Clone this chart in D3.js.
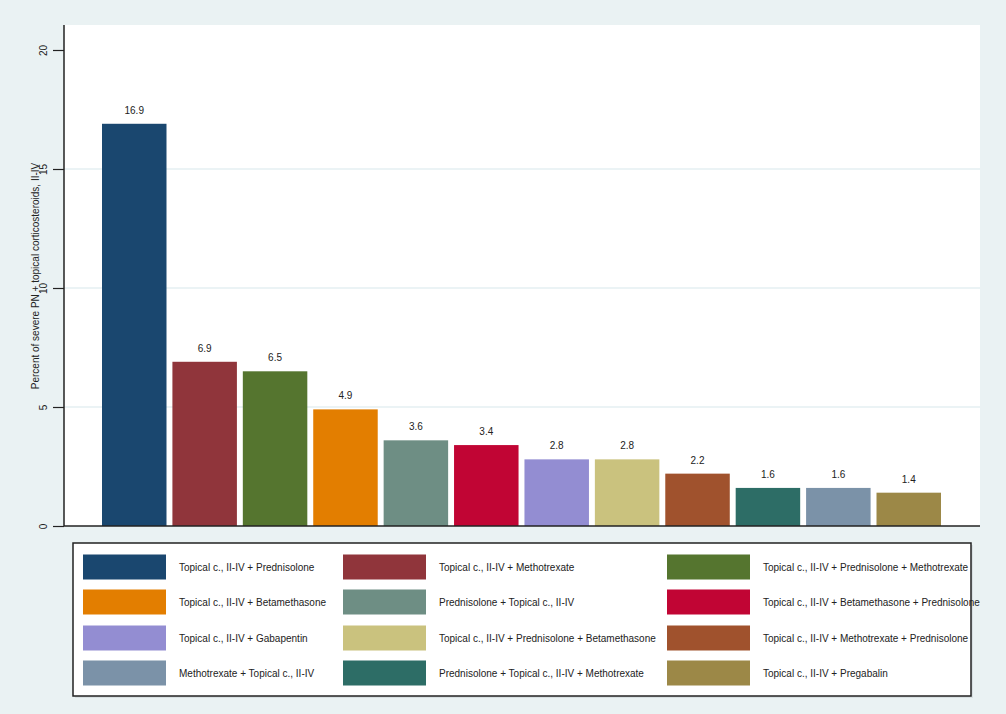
<!DOCTYPE html>
<html>
<head>
<meta charset="utf-8">
<script src="https://cdn.jsdelivr.net/npm/d3@7"></script>
<style>
  body { margin: 0; background: #eaf2f3; }
  text { font-family: "Liberation Sans", Arial, sans-serif; fill: #222; }
</style>
</head>
<body>
<div class="chart"></div>
<script>
// legend order (Stata series order)
const combos = [
  "Topical c., II-IV + Prednisolone",
  "Topical c., II-IV + Methotrexate",
  "Topical c., II-IV + Prednisolone + Methotrexate",
  "Topical c., II-IV + Betamethasone",
  "Prednisolone + Topical c., II-IV",
  "Topical c., II-IV + Betamethasone + Prednisolone",
  "Topical c., II-IV + Gabapentin",
  "Topical c., II-IV + Prednisolone + Betamethasone",
  "Topical c., II-IV + Methotrexate + Prednisolone",
  "Methotrexate + Topical c., II-IV",
  "Prednisolone + Topical c., II-IV + Methotrexate",
  "Topical c., II-IV + Pregabalin"
]
const percents = [16.9, 6.9, 6.5, 4.9, 3.6, 3.4, 2.8, 2.8, 2.2, 1.6, 1.6, 1.4]
const colors = ["#1a476f", "#90353b", "#55752f", "#e37e00", "#6e8e84", "#c10534",
                "#938dd2", "#cac27e", "#a0522d", "#7b92a8", "#2d6d66", "#9c8847"]
// order of bars left to right (index into combos)
const barOrder = [0, 1, 2, 3, 4, 5, 6, 7, 8, 10, 9, 11]
const yTicks = [0, 5, 10, 15, 20]
const gridTicks = [5, 10, 15]
const yTitle = "Percent of severe PN + topical corticosteroids, II-IV"

const W = 1006, H = 714
const plot = {left: 64, right: 980, top: 25, bottom: 526}

const svg = d3.select('.chart').append('svg')
    .attr("width", W)
    .attr("height", H)

svg.append("rect").attr("width", W).attr("height", H).attr("fill", "#eaf2f3")
svg.append("rect")
    .attr("x", plot.left).attr("y", plot.top)
    .attr("width", plot.right - plot.left).attr("height", plot.bottom - plot.top)
    .attr("fill", "#fff")

// SCALES
const xScale = d3.scaleBand()
    .domain(barOrder)
    .range([102, 941])
    .paddingInner(0.084)
    .paddingOuter(0)

const yScale = d3.scaleLinear()
    .domain([0, 20])
    .range([526, 50])

// GRID
svg.append("g")
    .selectAll("line")
    .data(gridTicks)
    .join("line")
    .attr("x1", plot.left).attr("x2", plot.right)
    .attr("y1", d => yScale(d)).attr("y2", d => yScale(d))
    .attr("stroke", "#e4eff2")
    .attr("stroke-width", 1.5)

// BARS
svg.append("g")
    .selectAll("rect")
    .data(barOrder)
    .join("rect")
    .attr("x", i => xScale(i))
    .attr("y", i => yScale(percents[i]))
    .attr("width", xScale.bandwidth())
    .attr("height", i => yScale(0) - yScale(percents[i]))
    .attr("fill", i => colors[i])

svg.append("g")
    .attr("font-size", 10)
    .attr("text-anchor", "middle")
    .selectAll("text")
    .data(barOrder)
    .join("text")
    .attr("x", i => xScale(i) + xScale.bandwidth() / 2)
    .attr("y", i => yScale(percents[i]) - 10)
    .text(i => percents[i].toFixed(1))

// AXES
const yAxis = d3.axisLeft(yScale)
    .tickValues(yTicks)
    .tickSize(11)
    .tickPadding(4)

const gy = svg.append("g")
    .attr("transform", `translate(${plot.left},0)`)
    .call(yAxis)
gy.select(".domain").remove()
gy.selectAll(".tick line").attr("stroke", "#222").attr("stroke-width", 1.2)
gy.selectAll(".tick text")
    .attr("font-size", 10)
    .attr("font-family", "Liberation Sans, Arial, sans-serif")
    .attr("fill", "#222")
    .attr("text-anchor", "middle")
    .attr("x", 0)
    .attr("dy", "0.35em")
    .attr("transform", "translate(-21,0) rotate(-90)")

svg.append("line")
    .attr("x1", plot.left).attr("x2", plot.left)
    .attr("y1", plot.top).attr("y2", plot.bottom)
    .attr("stroke", "#222").attr("stroke-width", 1.5)
svg.append("line")
    .attr("x1", plot.left).attr("x2", plot.right)
    .attr("y1", plot.bottom).attr("y2", plot.bottom)
    .attr("stroke", "#222").attr("stroke-width", 1.5)

svg.append("text")
    .attr("transform", "translate(39,276) rotate(-90)")
    .attr("text-anchor", "middle")
    .attr("font-size", 10)
    .text(yTitle)

// LEGEND
const colX = [83, 343, 667]
const rowY = [567, 602, 638, 673]

svg.append("rect")
    .attr("x", 75).attr("y", 545).attr("width", 898).attr("height", 153)
    .attr("fill", "#d8e0e2")
svg.append("rect")
    .attr("x", 73).attr("y", 543).attr("width", 898).attr("height", 153)
    .attr("fill", "#fff").attr("stroke", "#222").attr("stroke-width", 1.5)

const leg = svg.append("g")
    .selectAll("g")
    .data(combos)
    .join("g")
    .attr("transform", (d, i) => `translate(${colX[i % 3]},${rowY[Math.floor(i / 3)]})`)

leg.append("rect")
    .attr("x", 0).attr("y", -12.5)
    .attr("width", 83).attr("height", 25)
    .attr("fill", (d, i) => colors[i])

leg.append("text")
    .attr("x", 96)
    .attr("dy", "0.35em")
    .attr("font-size", 10)
    .text(d => d)
</script>
</body>
</html>
